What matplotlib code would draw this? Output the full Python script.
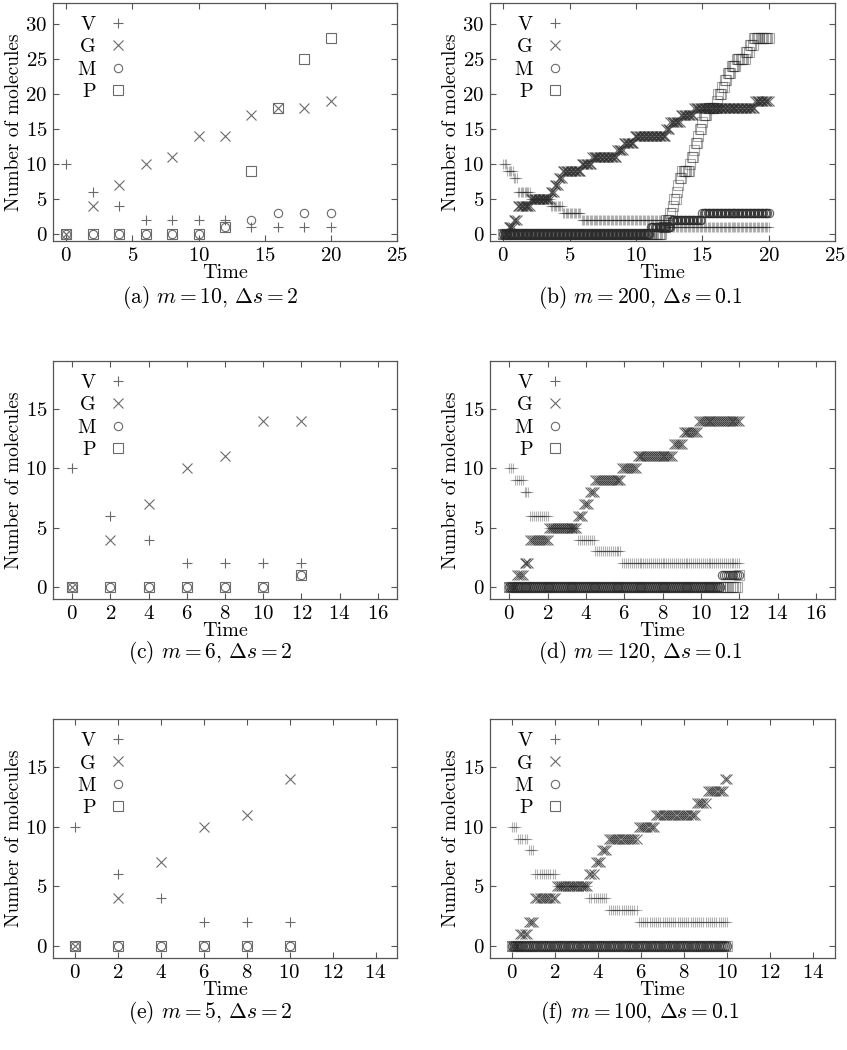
import numpy as np
import matplotlib
matplotlib.use("Agg")
import matplotlib.pyplot as plt
from matplotlib.lines import Line2D

plt.rcParams["font.family"] = "serif"
plt.rcParams["font.serif"] = ["cmr10"]
plt.rcParams["mathtext.fontset"] = "cm"
plt.rcParams["axes.formatter.use_mathtext"] = True

# ---------------- sparse panels (Delta s = 2) ----------------
t_a = [0, 2, 4, 6, 8, 10, 12, 14, 16, 18, 20]
V_a = [10, 6, 4, 2, 2, 2, 2, 1, 1, 1, 1]
G_a = [0, 4, 7, 10, 11, 14, 14, 17, 18, 18, 19]
M_a = [0, 0, 0, 0, 0, 0, 1, 2, 3, 3, 3]
P_a = [0, 0, 0, 0, 0, 0, 1, 9, 18, 25, 28]

t_c = [0, 2, 4, 6, 8, 10, 12]
V_c = [10, 6, 4, 2, 2, 2, 2]
G_c = [0, 4, 7, 10, 11, 14, 14]
M_c = [0, 0, 0, 0, 0, 0, 1]
P_c = [0, 0, 0, 0, 0, 0, 1]

t_e = [0, 2, 4, 6, 8, 10]
V_e = [10, 6, 4, 2, 2, 2]
G_e = [0, 4, 7, 10, 11, 14]
M_e = [0, 0, 0, 0, 0, 0]
P_e = [0, 0, 0, 0, 0, 0]

# ---------------- dense panels (Delta s = 0.1) ----------------
# piecewise-constant trajectories: time of change -> new value
V_jump_t = [0, 0.3, 0.8, 1.1, 2.1, 3.6, 4.5, 5.9, 12.5]
V_jump_v = [10, 9, 8, 6, 5, 4, 3, 2, 1]
G_jump_t = [0, 0.4, 0.8, 1.1, 2.1, 3.6, 3.9, 4.2, 4.5, 5.9, 6.7, 8.6, 9.1, 9.9,
            12.3, 12.6, 13.4, 14.4, 19.0]
G_jump_v = [0, 1, 2, 4, 5, 6, 7, 8, 9, 10, 11, 12, 13, 14, 15, 16, 17, 18, 19]
M_jump_t = [0, 11.1, 12.7, 15.0]
M_jump_v = [0, 1, 2, 3]
P_jump_t = [0, 12.0, 12.3, 12.6, 12.8, 12.9, 13.1, 13.2, 13.3, 13.5, 14.1, 14.2,
            14.4, 14.5, 14.7, 14.8, 15.0, 15.1, 15.4, 16.1, 16.2, 16.5, 16.7,
            16.9, 17.2, 17.6, 18.3, 18.6, 18.9]
P_jump_v = list(range(0, 29))

m_b, m_d, m_f = 200, 120, 100
ds = 0.1

markers = ["+", "x", "o", "s"]
labels = ["V", "G", "M", "P"]
msizes = [7.5, 7, 6, 6.5]
dense_alpha = [0.35, 0.7, 0.75, 0.4]
GRAY = "#6a6a6a"


def step_series(jt, jv, times):
    idx = np.searchsorted(np.asarray(jt), times + 1e-9, side="right") - 1
    return np.asarray(jv)[idx]


def dense(m):
    times = np.arange(m + 1) * ds
    return times, [step_series(V_jump_t, V_jump_v, times),
                   step_series(G_jump_t, G_jump_v, times),
                   step_series(M_jump_t, M_jump_v, times),
                   step_series(P_jump_t, P_jump_v, times)]


fig = plt.figure(figsize=(8.47, 10.5), dpi=100)
W, H = 847, 1050

cols = [(53, 397), (490, 835)]
rows = [(3, 241), (361, 599), (719, 958)]

tb, sb = dense(m_b)
td, sd = dense(m_d)
tf, sf = dense(m_f)

panels = [
    (0, 0, t_a, [V_a, G_a, M_a, P_a], False, (-1, 25), np.arange(0, 26, 5), (-1, 33), np.arange(0, 31, 5),
     r"(a) $m = 10$, $\Delta s = 2$"),
    (0, 1, tb, sb, True, (-1, 25), np.arange(0, 26, 5), (-1, 33), np.arange(0, 31, 5),
     r"(b) $m = 200$, $\Delta s = 0.1$"),
    (1, 0, t_c, [V_c, G_c, M_c, P_c], False, (-1, 17), np.arange(0, 17, 2), (-1, 19), np.arange(0, 16, 5),
     r"(c) $m = 6$, $\Delta s = 2$"),
    (1, 1, td, sd, True, (-1, 17), np.arange(0, 17, 2), (-1, 19), np.arange(0, 16, 5),
     r"(d) $m = 120$, $\Delta s = 0.1$"),
    (2, 0, t_e, [V_e, G_e, M_e, P_e], False, (-1, 15), np.arange(0, 15, 2), (-1, 19), np.arange(0, 16, 5),
     r"(e) $m = 5$, $\Delta s = 2$"),
    (2, 1, tf, sf, True, (-1, 15), np.arange(0, 15, 2), (-1, 19), np.arange(0, 16, 5),
     r"(f) $m = 100$, $\Delta s = 0.1$"),
]

cap_y = [297, 653, 1012]
cap_x = [210, 640]

for r, c, t, series, is_dense, xl, xt, yl, yt, cap in panels:
    x0, x1 = cols[c]
    y0, y1 = rows[r]
    ax = fig.add_axes([x0 / W, 1 - y1 / H, (x1 - x0) / W, (y1 - y0) / H])
    for s, mk, ms, al in zip(series, markers, msizes, dense_alpha):
        if is_dense:
            ax.plot(t, s, ls="none", marker=mk, ms=ms, mew=0.8, mfc="none",
                    color="#2a2a2a", alpha=al)
        else:
            ax.plot(t, s, ls="none", marker=mk, ms=ms, mew=0.8, mfc="none",
                    color=GRAY)
    ax.set_xlim(*xl)
    ax.set_ylim(*yl)
    ax.set_xticks(xt)
    ax.set_yticks(yt)
    ax.tick_params(direction="in", top=True, right=True, length=4, width=0.8,
                   labelsize=15, color="#555555", pad=4)
    for sp in ax.spines.values():
        sp.set_color("#555555")
        sp.set_linewidth(0.9)
    ax.set_xlabel("Time", fontsize=14.5, labelpad=0)
    ax.set_ylabel("Number of molecules", fontsize=14, labelpad=2)
    handles = [Line2D([], [], ls="none", marker=mk, ms=ms, mew=0.8, mfc="none", color=GRAY)
               for mk, ms in zip(markers, msizes)]
    ax.legend(handles, labels, loc="upper left", bbox_to_anchor=(0.035, 0.995),
              markerfirst=False, frameon=False, handlelength=1.0,
              handletextpad=0.6, labelspacing=0.2, borderpad=0.1,
              fontsize=14.5)
    fig.text(cap_x[c] / W, 1 - cap_y[r] / H, cap, ha="center", va="center",
             fontsize=15.5)

fig.savefig("out.png", dpi=100)
